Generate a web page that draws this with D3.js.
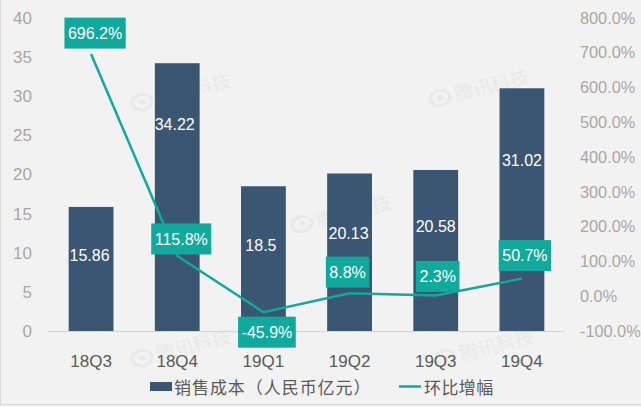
<!DOCTYPE html>
<html lang="zh">
<head>
    <meta charset="UTF-8">
    <script src="https://d3js.org/d3.v7.min.js"></script>
    <title>销售成本</title>
    <style>
        body {
            margin: 0;
            padding: 0;
            background: #f2f2f2;
        }

        svg {
            display: block;
            font-family: "Liberation Sans", Arial, sans-serif;
        }

        .tick line, .domain {
            display: none;
        }

        .legend {
            font-family: "Noto Sans CJK SC", sans-serif;
            font-size: 17px;
            letter-spacing: 0.4px;
            fill: #595959;
        }
    </style>
</head>

<body>
<script>

    var quarters = ['18Q3', '18Q4', '19Q1', '19Q2', '19Q3', '19Q4']
    var costValues = [15.86, 34.22, 18.5, 20.13, 20.58, 31.02]
    var growthValues = [696.2, 115.8, -45.9, 8.8, 2.3, 50.7]
    var leftTicks = [0, 5, 10, 15, 20, 25, 30, 35, 40]
    var rightTicks = [-100, 0, 100, 200, 300, 400, 500, 600, 700, 800]
    var seriesNames = ['销售成本（人民币亿元）', '环比增幅']

    // labels were dragged by hand in the original, so they need their own nudges
    var barLabelShift = [[-1.5, -14], [-2.5, -73], [-2.5, -13.5], [-1, -19], [0, -24.5], [0, -49.5]]
    var growthLabelShift = [[4, -21], [4, -17], [3.5, 20], [-2, -21], [2, -19], [3, -23]]
    var watermarks = [[142, 102], [302, 224], [440, 98], [142, 358], [445, 358]]

    var width = 641, height = 407
    var barColor = '#3a5672', lineColor = '#10a99c'
    var plotLeft = 48, plotRight = 565, plotTop = 18, plotBottom = 331

    var svg = d3.select('body').append('svg')
        .attr('width', width)
        .attr('height', height)

    var x = d3.scaleBand().domain(quarters).range([plotLeft, plotRight]).paddingInner(0.48).paddingOuter(0.24)
    var y = d3.scaleLinear().domain([0, 40]).range([plotBottom, plotTop])
    var yRight = d3.scaleLinear().domain([-100, 800]).range([plotBottom, plotTop])

    function midX(q) {
        return x(q) + x.bandwidth() / 2
    }

    // frame of the screenshot
    svg.append('path')
        .attr('d', 'M0.5,0V404.5H' + width)
        .attr('fill', 'none')
        .attr('stroke', '#d9d9d9')

    // watermark
    var marks = svg.selectAll('.mark')
        .data(watermarks)
        .enter()
        .append('g')
        .attr('transform', function (d) { return 'translate(' + d[0] + ',' + d[1] + ') rotate(-14)' })

    marks.append('ellipse')
        .attr('rx', 10).attr('ry', 7.5)
        .attr('fill', 'none').attr('stroke', '#e9e9e9').attr('stroke-width', 3)
    marks.append('circle').attr('r', 3).attr('fill', '#e9e9e9')
    marks.append('text')
        .attr('x', 15).attr('y', 7)
        .attr('font-family', '"Noto Sans CJK SC"')
        .attr('font-size', 19)
        .attr('fill', '#e9e9e9')
        .text('腾讯科技')

    // axes
    var gLeft = svg.append('g')
        .attr('transform', 'translate(' + plotLeft + ',0)')
        .call(d3.axisLeft(y).tickValues(leftTicks).tickSize(0).tickPadding(16))
    var gRight = svg.append('g')
        .attr('transform', 'translate(' + plotRight + ',0)')
        .call(d3.axisRight(yRight).tickValues(rightTicks).tickSize(0).tickPadding(15)
            .tickFormat(function (d) { return d.toFixed(1) + '%' }))
    var gBottom = svg.append('g')
        .attr('transform', 'translate(0,' + plotBottom + ')')
        .call(d3.axisBottom(x).tickSize(0).tickPadding(24))

    gLeft.selectAll('text').attr('font-size', 17).attr('fill', '#aba6a2')
    gRight.selectAll('text').attr('font-size', 16.3).attr('fill', '#aba6a2')
    gBottom.selectAll('text').attr('font-size', 17).attr('fill', '#595959')
    gLeft.attr('font-family', null)
    gRight.attr('font-family', null)
    gBottom.attr('font-family', null)

    svg.append('line')
        .attr('x1', plotLeft).attr('x2', plotRight)
        .attr('y1', plotBottom + 0.5).attr('y2', plotBottom + 0.5)
        .attr('stroke', '#d4d4d4')

    // bars
    svg.selectAll('.bar')
        .data(costValues)
        .enter()
        .append('rect')
        .attr('class', 'bar')
        .attr('x', function (d, i) { return x(quarters[i]) })
        .attr('y', function (d) { return y(d) })
        .attr('width', x.bandwidth())
        .attr('height', function (d) { return plotBottom - y(d) })
        .attr('fill', barColor)

    svg.selectAll('.bar-label')
        .data(costValues)
        .enter()
        .append('text')
        .attr('class', 'bar-label')
        .attr('x', function (d, i) { return midX(quarters[i]) + barLabelShift[i][0] })
        .attr('y', function (d, i) { return y(d / 2) + barLabelShift[i][1] })
        .attr('dy', '0.35em')
        .attr('text-anchor', 'middle')
        .attr('font-size', 16)
        .attr('fill', '#fff')
        .text(function (d) { return d })

    // growth line
    var line = d3.line()
        .x(function (d, i) { return midX(quarters[i]) })
        .y(function (d) { return yRight(d) })

    svg.append('path')
        .attr('d', line(growthValues))
        .attr('fill', 'none')
        .attr('stroke', lineColor)
        .attr('stroke-width', 2.5)

    var growthLabels = svg.selectAll('.growth-label')
        .data(growthValues)
        .enter()
        .append('g')
        .attr('class', 'growth-label')
        .attr('transform', function (d, i) {
            return 'translate(' + (midX(quarters[i]) + growthLabelShift[i][0]) + ',' + (yRight(d) + growthLabelShift[i][1]) + ')'
        })

    growthLabels.append('rect')
        .attr('fill', lineColor)
        .attr('y', -15.5)
        .attr('height', 31)

    growthLabels.append('text')
        .attr('text-anchor', 'middle')
        .attr('dy', '0.35em')
        .attr('font-size', 16)
        .attr('fill', '#fff')
        .text(function (d) { return d.toFixed(1) + '%' })

    growthLabels.each(function () {
        var w = d3.select(this).select('text').node().getComputedTextLength() + 7
        d3.select(this).select('rect').attr('x', -w / 2).attr('width', w)
    })

    // legend
    svg.append('rect')
        .attr('x', 150).attr('y', 382)
        .attr('width', 22).attr('height', 9)
        .attr('fill', barColor)
    svg.append('text')
        .attr('class', 'legend')
        .attr('x', 174).attr('y', 394)
        .style('letter-spacing', '0.95px')
        .text(seriesNames[0])
    svg.append('line')
        .attr('x1', 399).attr('x2', 421)
        .attr('y1', 386.5).attr('y2', 386.5)
        .attr('stroke', lineColor)
        .attr('stroke-width', 2.5)
    svg.append('text')
        .attr('class', 'legend')
        .attr('x', 424).attr('y', 394)
        .text(seriesNames[1])

</script>
</body>

</html>
